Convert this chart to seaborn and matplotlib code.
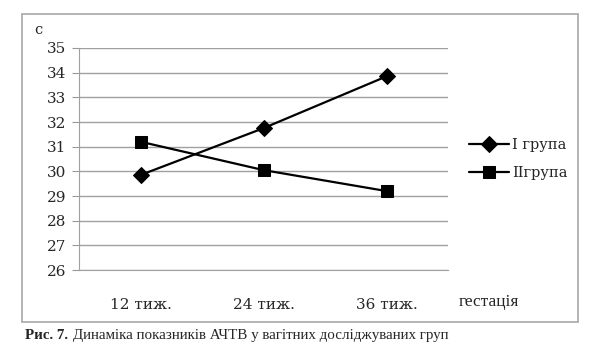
import pandas as pd
import seaborn as sns
import matplotlib.pyplot as plt
from matplotlib.patches import Rectangle

# values
weeks = ["12 тиж.", "24 тиж.", "36 тиж."]
group1 = [29.85, 31.75, 33.85]
group2 = [31.2, 30.05, 29.2]
group_names = ["I група", "IIгрупа"]
y_ticks = [26, 27, 28, 29, 30, 31, 32, 33, 34, 35]

df = pd.DataFrame({
    "week": weeks * 2,
    "value": group1 + group2,
    "group": [group_names[0]] * 3 + [group_names[1]] * 3,
})

sns.set_style("white")
plt.rcParams["font.family"] = ["DejaVu Serif"]

fig = plt.figure(figsize=(6, 3.59), dpi=100)
ax = fig.add_axes([0.1317, 0.2479, 0.615, 0.6184])

sns.lineplot(
    data=df, x="week", y="value", hue="group", style="group",
    markers={group_names[0]: "D", group_names[1]: "s"}, dashes=False,
    palette={group_names[0]: "black", group_names[1]: "black"},
    markersize=8, linewidth=1.6, markeredgecolor="black", ax=ax,
)

ax.set_xlim(-0.5, 2.5)
ax.set_ylim(26, 35)
ax.set_yticks(y_ticks)
ax.set_yticklabels([str(t) for t in y_ticks], fontsize=11)
ax.set_xticks(range(len(weeks)))
ax.set_xticklabels(weeks, fontsize=11)
ax.set_xticks([-0.5, 0.5, 1.5, 2.5], minor=True)
ax.tick_params(axis="x", which="major", length=0, pad=20)
ax.tick_params(axis="x", which="minor", length=4, color="#999999", direction="out")
ax.tick_params(axis="y", length=5, color="#999999", direction="out", left=True, pad=4)
ax.grid(axis="y", color="#a0a0a0", linewidth=1)
ax.set_axisbelow(True)
for side in ["top", "right"]:
    ax.spines[side].set_visible(False)
ax.spines["left"].set_color("#a0a0a0")
ax.spines["bottom"].set_color("#a0a0a0")
ax.set_xlabel("")
ax.set_ylabel("")

handles, labels = ax.get_legend_handles_labels()
ax.legend(handles, labels, loc="center left", bbox_to_anchor=(1.02, 0.5),
          frameon=False, fontsize=10.5, handlelength=2.8, handletextpad=0.2,
          labelspacing=1.0)

fig.text(0.057, 0.905, "с", fontsize=10.5)
fig.text(0.765, 0.148, "гестація", fontsize=12.5, family=["Liberation Serif"])

# outer chart frame
fig.patches.append(Rectangle((0.0367, 0.1031), 0.9266, 0.858,
                             transform=fig.transFigure, fill=False,
                             edgecolor="#a8a8a8", linewidth=1.2))

fig.text(0.042, 0.055, "Рис. 7.", fontsize=10.8, fontweight="bold",
         family=["Liberation Serif"])
fig.text(0.122, 0.055, "Динаміка показників АЧТВ у вагітних досліджуваних груп",
         fontsize=10.8, family=["Liberation Serif"])

fig.savefig("out.png", dpi=100)
